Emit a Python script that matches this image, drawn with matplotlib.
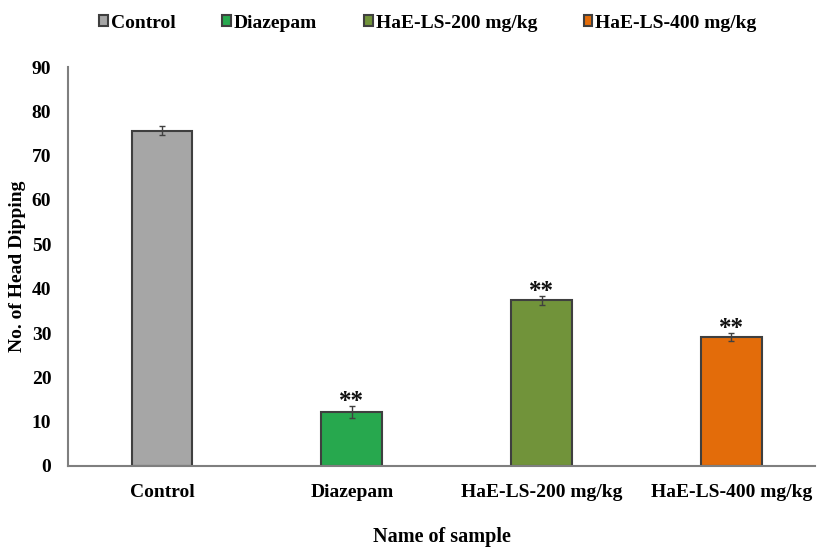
import matplotlib.pyplot as plt
import numpy as np

plt.rcParams['font.family'] = ['Liberation Serif', 'DejaVu Serif']
plt.rcParams['font.weight'] = 'bold'

groups = ['Control', 'Diazepam', 'HaE-LS-200 mg/kg', 'HaE-LS-400 mg/kg']
head_dips = [75.6, 12.2, 37.4, 29.1]
sem = [1.0, 1.4, 1.0, 1.0]
marks = ['', '**', '**', '**']
colors = ['#A6A6A6', '#27A84E', '#71933A', '#E36C0A']

fig = plt.figure(figsize=(8.17, 5.48), dpi=100)
W, H = 817, 548
ax = fig.add_axes([68 / W, 1 - 466 / H, (815 - 68) / W, (466 - 67) / H])

x = np.arange(len(groups))
bars = ax.bar(x, head_dips, width=0.32, color=colors, edgecolor='#3F3F3F',
              linewidth=1.5, label=groups, zorder=2)
ax.errorbar(x, head_dips, yerr=sem, fmt='none', ecolor='#404040',
            elinewidth=1, capsize=2, capthick=1, zorder=3)
# significance stars above the treated groups
for xi, v, e, m in zip(x, head_dips, sem, marks):
    if m:
        ax.text(xi, v + e - 0.5, m, ha='center', va='baseline', fontsize=18,
                fontweight='bold', color='#111111')

ax.set_xlim(-0.495, 3.44)
ax.set_ylim(0, 90)
ax.set_yticks(np.arange(0, 91, 10))
ax.set_xticks(x)
ax.set_xticklabels(groups, fontsize=14, fontweight='bold')
ax.tick_params(axis='y', length=0, labelsize=14, pad=12)
ax.tick_params(axis='x', length=0, pad=13)
for s in ['top', 'right']:
    ax.spines[s].set_visible(False)
for s in ['left', 'bottom']:
    ax.spines[s].set_color('#7F7F7F')
    ax.spines[s].set_linewidth(1.5)

ax.set_ylabel('No. of Head Dipping', fontsize=14, fontweight='bold', labelpad=4)
ax.set_xlabel('Name of sample', fontsize=14.5, fontweight='bold', labelpad=18.5)

fig.legend(handles=bars, labels=groups, loc='center', bbox_to_anchor=(428 / W, 1 - 23 / H),
           ncol=4, frameon=False, fontsize=14, handlelength=0.45, handleheight=0.45,
           handletextpad=0.15, columnspacing=2.4)

fig.savefig('out.png', dpi=100)
